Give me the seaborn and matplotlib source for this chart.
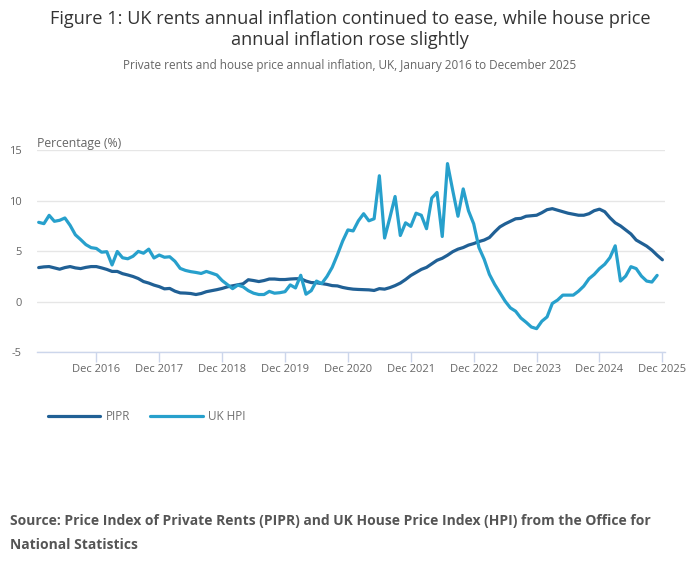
import pandas as pd
import seaborn as sns
import matplotlib.pyplot as plt

sns.set_theme(style="white")
plt.rcParams['font.family'] = ['Open Sans', 'DejaVu Sans']
plt.rcParams['axes.unicode_minus'] = False

# Monthly annual inflation (%), Jan 2016 onwards
pipr = [
    3.38, 3.45, 3.48, 3.35, 3.22, 3.38, 3.48, 3.35, 3.28, 3.40, 3.48, 3.48,  # 2016
    3.35, 3.20, 3.00, 3.00, 2.78, 2.65, 2.50, 2.30, 2.00, 1.85, 1.65, 1.50,  # 2017
    1.28, 1.32, 1.05, 0.88, 0.86, 0.82, 0.72, 0.82, 1.00, 1.10, 1.20, 1.32,  # 2018
    1.48, 1.58, 1.68, 1.78, 2.18, 2.10, 2.00, 2.10, 2.25, 2.25, 2.20, 2.20,  # 2019
    2.25, 2.28, 2.28, 2.05, 1.90, 1.88, 1.80, 1.72, 1.60, 1.57, 1.42, 1.32,  # 2020
    1.25, 1.22, 1.20, 1.18, 1.12, 1.30, 1.25, 1.40, 1.60, 1.85, 2.20, 2.60,  # 2021
    2.90, 3.20, 3.40, 3.75, 4.10, 4.30, 4.60, 4.95, 5.20, 5.36, 5.60, 5.75,  # 2022
    5.95, 6.10, 6.35, 6.90, 7.40, 7.70, 7.95, 8.20, 8.24, 8.45, 8.50, 8.55,  # 2023
    8.80, 9.10, 9.20, 9.05, 8.90, 8.75, 8.65, 8.55, 8.55, 8.70, 9.00, 9.15,  # 2024
    8.90, 8.30, 7.80, 7.50, 7.10, 6.70, 6.10, 5.80, 5.50, 5.10, 4.60, 4.15,  # 2025
]
uk_hpi = [
    7.85, 7.72, 8.54, 7.95, 8.05, 8.28, 7.55, 6.62, 6.15, 5.65, 5.35, 5.27,
    4.90, 4.95, 3.64, 4.97, 4.35, 4.25, 4.50, 4.98, 4.80, 5.20, 4.33, 4.62,
    4.40, 4.45, 4.00, 3.30, 3.10, 2.98, 2.90, 2.80, 3.00, 2.83, 2.65, 2.10,
    1.70, 1.30, 1.65, 1.48, 1.10, 0.85, 0.72, 0.72, 1.03, 0.85, 0.90, 1.00,
    1.67, 1.37, 2.62, 0.75, 1.10, 2.05, 1.80, 2.50, 3.40, 4.65, 6.00, 7.10,
    7.00, 8.00, 8.70, 8.00, 8.20, 12.45, 6.30, 8.30, 10.40, 6.55, 7.80, 7.45,
    8.75, 8.55, 7.22, 10.25, 10.80, 6.45, 13.65, 11.00, 8.45, 11.15, 9.00, 7.70,
    5.36, 4.20, 2.71, 1.72, 0.89, 0.06, -0.60, -0.93, -1.60, -2.02, -2.49, -2.65,
    -1.92, -1.49, -0.16, 0.17, 0.66, 0.66, 0.66, 1.05, 1.55, 2.28, 2.71, 3.28,
    3.71, 4.37, 5.53, 2.05, 2.54, 3.47, 3.28, 2.54, 2.05, 1.95, 2.61,  # to Nov 2025
]
tick_labels = ["Dec 2016", "Dec 2017", "Dec 2018", "Dec 2019", "Dec 2020",
               "Dec 2021", "Dec 2022", "Dec 2023", "Dec 2024", "Dec 2025"]
y_ticks = [-5, 0, 5, 10, 15]

df = pd.concat([
    pd.DataFrame({"month": range(len(pipr)), "value": pipr, "series": "PIPR"}),
    pd.DataFrame({"month": range(len(uk_hpi)), "value": uk_hpi, "series": "UK HPI"}),
])

W, H = 700, 574
fig = plt.figure(figsize=(7, 5.74), dpi=100)
ax = fig.add_axes([37 / W, 0.386, 628 / W, 0.3528])

sns.lineplot(data=df, x="month", y="value", hue="series",
             palette={"PIPR": "#206095", "UK HPI": "#27a0cc"},
             linewidth=2.3, ax=ax, legend=False)

ax.set_xlim(-0.32, 119.5)
ax.set_ylim(-5, 15)
ax.set_yticks(y_ticks)
ax.set_xticks([11 + 12 * k for k in range(len(tick_labels))])
ax.set_xticklabels(tick_labels)
ax.grid(axis="y", color="#e6e6e6", linewidth=1)
for s in ["top", "right", "left"]:
    ax.spines[s].set_visible(False)
ax.spines["bottom"].set_color("#ccd6eb")
ax.spines["bottom"].set_linewidth(1)
ax.tick_params(axis="x", length=7, width=1, color="#ccd6eb", labelcolor="#666666",
               labelsize=8, pad=1, bottom=True)
ax.tick_params(axis="y", length=0, labelsize=8, labelcolor="#666666", pad=11)
ax.set_xlabel("")
ax.set_ylabel("")
fig.text(37 / W, 1 - 143 / H, "Percentage (%)", ha="left", va="center",
         fontsize=8.8, color="#666666")

fig.text(0.5, 1 - 10 / H,
         "Figure 1: UK rents annual inflation continued to ease, while house price\n"
         "annual inflation rose slightly",
         ha="center", va="top", fontsize=13.1, color="#333333", linespacing=1.24)
fig.text(0.5, 1 - 65 / H,
         "Private rents and house price annual inflation, UK, January 2016 to December 2025",
         ha="center", va="center", fontsize=8.5, color="#666666")

# legend
fig.lines.append(plt.Line2D([48 / W, 100 / W], [1 - 416 / H] * 2,
                            transform=fig.transFigure, color="#206095", linewidth=2.3))
fig.text(106 / W, 1 - 416 / H, "PIPR", ha="left", va="center", fontsize=8.5, color="#707070")
fig.lines.append(plt.Line2D([150 / W, 203 / W], [1 - 416 / H] * 2,
                            transform=fig.transFigure, color="#27a0cc", linewidth=2.3))
fig.text(208 / W, 1 - 416 / H, "UK HPI", ha="left", va="center", fontsize=8.5, color="#707070")

fig.text(10 / W, 1 - 514 / H,
         "Source: Price Index of Private Rents (PIPR) and UK House Price Index (HPI) from the Office for\n"
         "National Statistics",
         ha="left", va="top", fontsize=10, fontweight="bold", color="#555555", linespacing=1.92)

fig.savefig("out.png", dpi=100)
